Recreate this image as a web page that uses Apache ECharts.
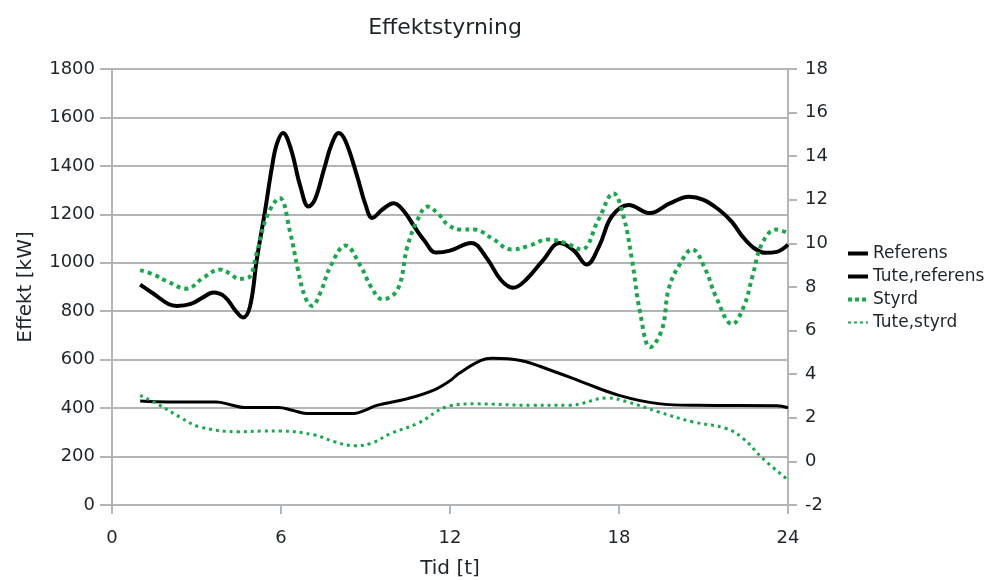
<!DOCTYPE html>
<html>
<head>
<meta charset="utf-8">
<script src="https://cdn.jsdelivr.net/npm/echarts@6/dist/echarts.min.js"></script>
<style>html,body{margin:0;padding:0;background:#fff;}#c{width:991px;height:581px;}</style>
</head>
<body>
<div id="c"></div>
<script>
// Time (hours) and values
const refT = [1.0,1.5,2.0,2.3,2.8,3.2,3.6,4.0,4.4,4.65,4.9,5.14,5.44,5.68,5.85,6.07,6.35,6.69,6.98,7.2,7.52,7.8,8.05,8.3,8.71,9.0,9.24,9.6,10.0,10.35,10.73,11.1,11.5,12.0,12.75,13.3,13.8,14.24,14.7,15.3,15.9,16.4,16.85,17.3,17.74,18.34,19.1,19.8,20.48,21.0,21.55,22.0,22.38,22.8,23.21,23.6,24.0];
const refV = [910,870,830,822,830,855,877,860,800,774,820,1013,1219,1396,1490,1536,1470,1314,1232,1260,1383,1490,1536,1500,1355,1240,1185,1220,1246,1215,1150,1090,1042,1050,1082,1020,930,897,930,1010,1082,1050,993,1070,1191,1239,1205,1245,1273,1260,1219,1170,1109,1060,1041,1045,1075];

const styT = [1.0,1.5,1.93,2.65,3.24,3.83,4.2,4.49,4.84,5.14,5.5,5.95,6.33,6.6,6.85,7.1,7.4,7.76,8.29,8.83,9.2,9.6,10.14,10.49,10.85,11.2,11.6,11.92,12.4,12.87,13.5,14.18,14.8,15.48,16.08,16.67,17.27,17.8,18.16,18.46,18.75,19.11,19.53,19.76,20.12,20.6,21.07,21.43,22.02,22.44,22.74,23.09,23.57,24.0];
const styV = [970,950,925,893,938,972,955,934,938,1041,1191,1267,1123,972,860,822,877,986,1071,986,900,849,890,1068,1178,1232,1200,1157,1137,1137,1100,1055,1070,1096,1082,1055,1178,1287,1191,1013,795,651,726,890,986,1055,972,863,747,822,945,1082,1137,1123];

const tuteRefT = [1.0,2.0,3.0,3.7,4.2,4.7,5.9,6.4,6.9,8.6,9.0,9.4,10.5,11.4,12.0,12.3,13.1,13.5,14.5,15.6,16.7,18.0,19.4,20.8,23.6,24.0];
const tuteRefV = [2.77,2.73,2.73,2.73,2.6,2.47,2.47,2.35,2.2,2.2,2.35,2.57,2.88,3.26,3.7,4.02,4.63,4.73,4.63,4.17,3.64,3.03,2.65,2.57,2.55,2.46];

const tuteStyT = [1.0,1.7,2.4,3.1,4.5,5.3,6.0,7.2,7.9,8.6,9.2,9.9,10.85,12.0,12.9,14.9,16.2,17.6,18.3,19.4,20.6,21.8,22.4,23.1,24.0];
const tuteStyV = [3.03,2.57,2.04,1.59,1.36,1.39,1.39,1.21,0.9,0.72,0.83,1.28,1.74,2.55,2.64,2.57,2.57,2.91,2.73,2.27,1.82,1.51,1.06,0.14,-0.85];

const xTicks = {min:0, max:24, interval:6};
const leftTicks = {min:0, max:1800, interval:200};
const rightTicks = {min:-2, max:18, interval:2};
const seriesNames = ['Referens','Tute,referens','Styrd','Tute,styrd'];

const pairs = (t, v) => t.map((x, i) => [x, v[i]]);
const GRAY = '#b3b6b8';
const TXT = '#1e2428';
const GREEN = '#19a94c';
const FONT = 'DejaVu Sans';
const plain = v => String(v);

const chart = echarts.init(document.getElementById('c'), null, {renderer:'canvas'});
chart.setOption({
  animation:false,
  backgroundColor:'#fff',
  textStyle:{fontFamily:FONT, color:TXT},
  title:{text:'Effektstyrning', left:440, top:12, textAlign:'center',
    textStyle:{fontFamily:FONT, fontSize:22, fontWeight:'normal', color:TXT}},
  grid:{left:112, right:203, top:69, bottom:76, outerBoundsMode:'none', containLabel:false},
  legend:{orient:'vertical', left:841, top:240, itemWidth:20, itemHeight:14, itemGap:6,
    itemStyle:{opacity:0},
    textStyle:{fontFamily:FONT, fontSize:17, color:TXT},
    data:[
      {name:seriesNames[0], lineStyle:{width:4, type:'solid'}},
      {name:seriesNames[1], lineStyle:{width:4, type:'solid'}},
      {name:seriesNames[2], lineStyle:{width:4, type:[4,3], cap:'butt'}},
      {name:seriesNames[3], lineStyle:{width:2, type:[3,3], cap:'butt'}}
    ]},
  xAxis:{type:'value', min:xTicks.min, max:xTicks.max, interval:xTicks.interval,
    name:'Tid [t]', nameLocation:'middle', nameGap:54,
    nameTextStyle:{fontFamily:FONT, fontSize:20, color:TXT},
    axisLine:{show:true, onZero:false, lineStyle:{color:GRAY, width:2}},
    axisTick:{show:true, length:9, lineStyle:{color:GRAY, width:2}},
    axisLabel:{fontFamily:FONT, fontSize:18, color:TXT, margin:24, formatter:plain},
    splitLine:{show:false}},
  yAxis:[
    {type:'value', min:leftTicks.min, max:leftTicks.max, interval:leftTicks.interval,
      name:'Effekt [kW]', nameLocation:'middle', nameGap:76,
      nameTextStyle:{fontFamily:FONT, fontSize:20, color:TXT},
      axisLine:{show:true, lineStyle:{color:GRAY, width:2}},
      axisTick:{show:true, length:12, lineStyle:{color:GRAY, width:2}},
      axisLabel:{fontFamily:FONT, fontSize:18, color:TXT, margin:17, formatter:plain, padding:[3,0,0,0]},
      splitLine:{show:true, lineStyle:{color:GRAY, width:2}}},
    {type:'value', min:rightTicks.min, max:rightTicks.max, interval:rightTicks.interval,
      position:'right',
      axisLine:{show:true, lineStyle:{color:GRAY, width:2}},
      axisTick:{show:true, length:9, lineStyle:{color:GRAY, width:2}},
      axisLabel:{fontFamily:FONT, fontSize:18, color:TXT, margin:17, formatter:plain, padding:[3,0,0,0]},
      splitLine:{show:false}}
  ],
  series:[
    {name:seriesNames[0], type:'line', yAxisIndex:0, data:pairs(refT, refV), smooth:0.4,
      symbol:'none', lineStyle:{color:'#000', width:4}, itemStyle:{color:'#000'}, z:3},
    {name:seriesNames[1], type:'line', yAxisIndex:1, data:pairs(tuteRefT, tuteRefV), smooth:0.4,
      symbol:'none', lineStyle:{color:'#000', width:3}, itemStyle:{color:'#000'}, z:3},
    {name:seriesNames[2], type:'line', yAxisIndex:0, data:pairs(styT, styV), smooth:0.4,
      symbol:'none', lineStyle:{color:GREEN, width:4, type:[4,4], cap:'butt'}, itemStyle:{color:GREEN}, z:4},
    {name:seriesNames[3], type:'line', yAxisIndex:1, data:pairs(tuteStyT, tuteStyV), smooth:0.4,
      symbol:'none', lineStyle:{color:GREEN, width:3, type:[3,4], cap:'butt'}, itemStyle:{color:GREEN}, z:4}
  ]
});
</script>
</body>
</html>
